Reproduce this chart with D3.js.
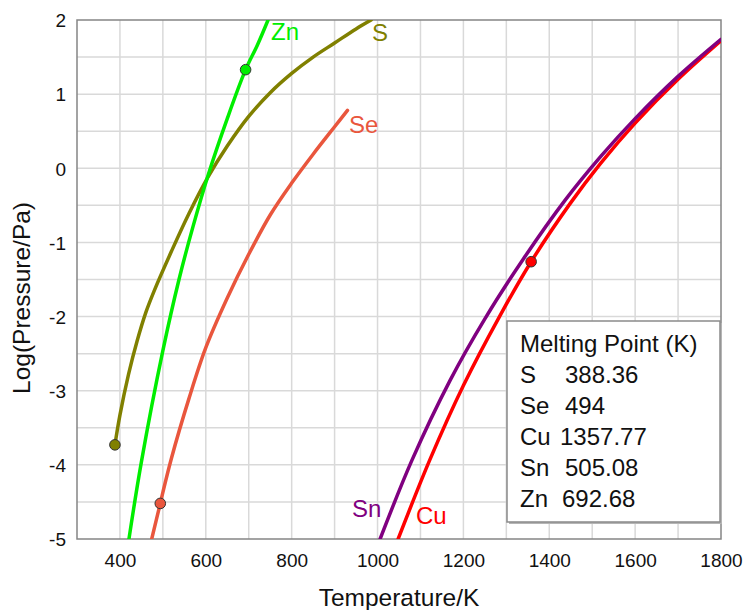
<!DOCTYPE html>
<html>
<head>
<meta charset="utf-8">
<script src="https://cdn.jsdelivr.net/npm/d3@7"></script>
<style>
  body { margin: 0; background: #fff; }
  svg { display: block; }
  text { font-family: "Liberation Sans", Arial, Helvetica, sans-serif; }
</style>
</head>
<body>
<svg id="chart" width="745" height="610"></svg>
<script>
// Vapour pressure curves, log10(P / Pa) against temperature (K)
const sulfurT   = [388.36, 400, 420, 440, 460, 480, 520, 560, 605, 650, 700, 750, 800, 850, 900, 950, 985];
const sulfurP   = [-3.73, -3.33, -2.78, -2.33, -1.95, -1.65, -1.12, -0.62, -0.12, 0.30, 0.70, 1.02, 1.28, 1.50, 1.69, 1.88, 2.00];
const seleniumT = [474, 494, 500, 520, 560, 600, 650, 700, 750, 800, 850, 900, 930];
const seleniumP = [-5.00, -4.52, -4.37, -3.91, -3.12, -2.42, -1.75, -1.16, -0.63, -0.20, 0.19, 0.56, 0.78];
const zincT     = [421, 450, 500, 538, 570, 605, 650, 692.68, 720, 745];
const zincP     = [-5.00, -3.96, -2.46, -1.49, -0.79, -0.10, 0.67, 1.33, 1.66, 2.00];
const copperT   = [1048, 1122, 1200, 1285, 1357.77, 1448, 1520, 1600, 1700, 1800];
const copperP   = [-5.00, -3.93, -2.93, -1.99, -1.26, -0.48, 0.07, 0.61, 1.20, 1.72];
const tinT      = [1006, 1080, 1169, 1250, 1340, 1437, 1520, 1600, 1700, 1800];
const tinP      = [-5.00, -3.94, -2.86, -2.03, -1.22, -0.43, 0.16, 0.67, 1.24, 1.74];

// Melting points (K) and the pressure at each one
const elements    = ["S", "Se", "Cu", "Sn", "Zn"];
const meltingT    = [388.36, 494, 1357.77, 505.08, 692.68];
const meltingText = ["388.36", "494", "1357.77", "505.08", "692.68"];
const meltingP    = [-3.73, -4.52, -1.26, null, 1.33];

// Axis ticks
const xTicks = [400, 600, 800, 1000, 1200, 1400, 1600, 1800];
const yTicks = [-5, -4, -3, -2, -1, 0, 1, 2];
const xGrid  = d3.range(400, 1800, 100);
const yGrid  = d3.range(-4.5, 2, 0.5);

const colors = { S: "#808000", Se: "#e9563d", Cu: "#ff0000", Sn: "#800080", Zn: "#00ee00" };

const series = [
  { name: "S",  T: sulfurT,   P: sulfurP },
  { name: "Se", T: seleniumT, P: seleniumP },
  { name: "Zn", T: zincT,     P: zincP },
  { name: "Cu", T: copperT,   P: copperP },
  { name: "Sn", T: tinT,      P: tinP }
];

const plot = { left: 77, top: 20, right: 721, bottom: 539 };
const svg = d3.select("#chart");

const x = d3.scaleLinear().domain([300, 1800]).range([plot.left, plot.right]);
const y = d3.scaleLinear().domain([-5, 2]).range([plot.bottom, plot.top]);

// Grid
const grid = svg.append("g").attr("stroke", "#d9d9d9").attr("stroke-width", 1.5);
grid.selectAll("line.v").data(xGrid).join("line")
  .attr("x1", d => x(d)).attr("x2", d => x(d))
  .attr("y1", plot.top).attr("y2", plot.bottom);
grid.selectAll("line.h").data(yGrid).join("line")
  .attr("y1", d => y(d)).attr("y2", d => y(d))
  .attr("x1", plot.left).attr("x2", plot.right);

// Axes (labels only; the frame is drawn separately)
const xAxis = svg.append("g")
  .attr("transform", `translate(0,${plot.bottom})`)
  .call(d3.axisBottom(x).tickValues(xTicks).tickSize(0).tickFormat(d => String(d)));
xAxis.select(".domain").remove();
xAxis.selectAll("text")
  .attr("y", 27.5).attr("dy", null)
  .attr("font-size", 19).attr("fill", "#111")
  .style("font-family", '"Liberation Sans", Arial, sans-serif');

const yAxis = svg.append("g")
  .attr("transform", `translate(${plot.left},0)`)
  .call(d3.axisLeft(y).tickValues(yTicks).tickSize(0).tickFormat(d => String(d)));
yAxis.select(".domain").remove();
yAxis.selectAll("text")
  .attr("x", -11).attr("dy", "0.36em")
  .attr("font-size", 19).attr("fill", "#111")
  .style("font-family", '"Liberation Sans", Arial, sans-serif');

// Plot frame
svg.append("rect")
  .attr("x", plot.left).attr("y", plot.top)
  .attr("width", plot.right - plot.left).attr("height", plot.bottom - plot.top)
  .attr("fill", "none").attr("stroke", "#858585").attr("stroke-width", 1.5);

// Axis titles
svg.append("text")
  .attr("x", (plot.left + plot.right) / 2).attr("y", 606)
  .attr("text-anchor", "middle").attr("font-size", 24.5).attr("fill", "#111")
  .text("Temperature/K");
svg.append("text")
  .attr("transform", "translate(30,298) rotate(-90)")
  .attr("text-anchor", "middle").attr("font-size", 24.5).attr("fill", "#111")
  .text("Log(Pressure/Pa)");

// Curves
svg.append("clipPath").attr("id", "plot-clip")
  .append("rect")
  .attr("x", plot.left).attr("y", plot.top)
  .attr("width", plot.right - plot.left).attr("height", plot.bottom - plot.top);

const line = d3.line()
  .x(d => x(d[0])).y(d => y(d[1]))
  .curve(d3.curveCatmullRom.alpha(0.5));

const curves = svg.append("g").attr("clip-path", "url(#plot-clip)");
curves.selectAll("path").data(series).join("path")
  .attr("d", s => line(s.T.map((t, i) => [t, s.P[i]])))
  .attr("fill", "none")
  .attr("stroke", s => colors[s.name])
  .attr("stroke-width", 3.5)
  .attr("stroke-linejoin", "round")
  .attr("stroke-linecap", "round");

// Melting point markers
const markers = elements
  .map((name, i) => ({ name, T: meltingT[i], P: meltingP[i] }))
  .filter(d => d.P !== null);
svg.append("g").selectAll("circle").data(markers).join("circle")
  .attr("cx", d => x(d.T)).attr("cy", d => y(d.P)).attr("r", 5.3)
  .attr("fill", d => colors[d.name])
  .attr("stroke", "#333").attr("stroke-width", 1);

// Curve labels
const curveLabels = [
  { name: "Zn", px: 271, py: 40 },
  { name: "S",  px: 372, py: 40.5 },
  { name: "Se", px: 349, py: 133 },
  { name: "Sn", px: 352, py: 516.5 },
  { name: "Cu", px: 416, py: 524 }
];
svg.append("g").selectAll("text").data(curveLabels).join("text")
  .attr("x", d => d.px).attr("y", d => d.py)
  .attr("font-size", 24).attr("fill", d => colors[d.name])
  .text(d => d.name);

// Melting point table
const box = { x: 507, y: 321, w: 213, h: 201 };
svg.append("rect")
  .attr("x", box.x + 2).attr("y", box.y + 2)
  .attr("width", box.w).attr("height", box.h)
  .attr("fill", "#b5b5b5");
svg.append("rect")
  .attr("x", box.x).attr("y", box.y)
  .attr("width", box.w).attr("height", box.h)
  .attr("fill", "#fff").attr("stroke", "#8a8a8a").attr("stroke-width", 1.5);

svg.append("text")
  .attr("x", 520).attr("y", 352)
  .attr("font-size", 24).attr("fill", "#111")
  .text("Melting Point (K)");

const valueX = [565, 565, 560, 565, 562];
const rows = svg.append("g").attr("font-size", 24).attr("fill", "#111");
elements.forEach((name, i) => {
  const row = rows.append("text").attr("y", 383 + i * 31);
  row.append("tspan").attr("x", 520).text(name);
  row.append("tspan").attr("x", valueX[i]).text(meltingText[i]);
});
</script>
</body>
</html>
